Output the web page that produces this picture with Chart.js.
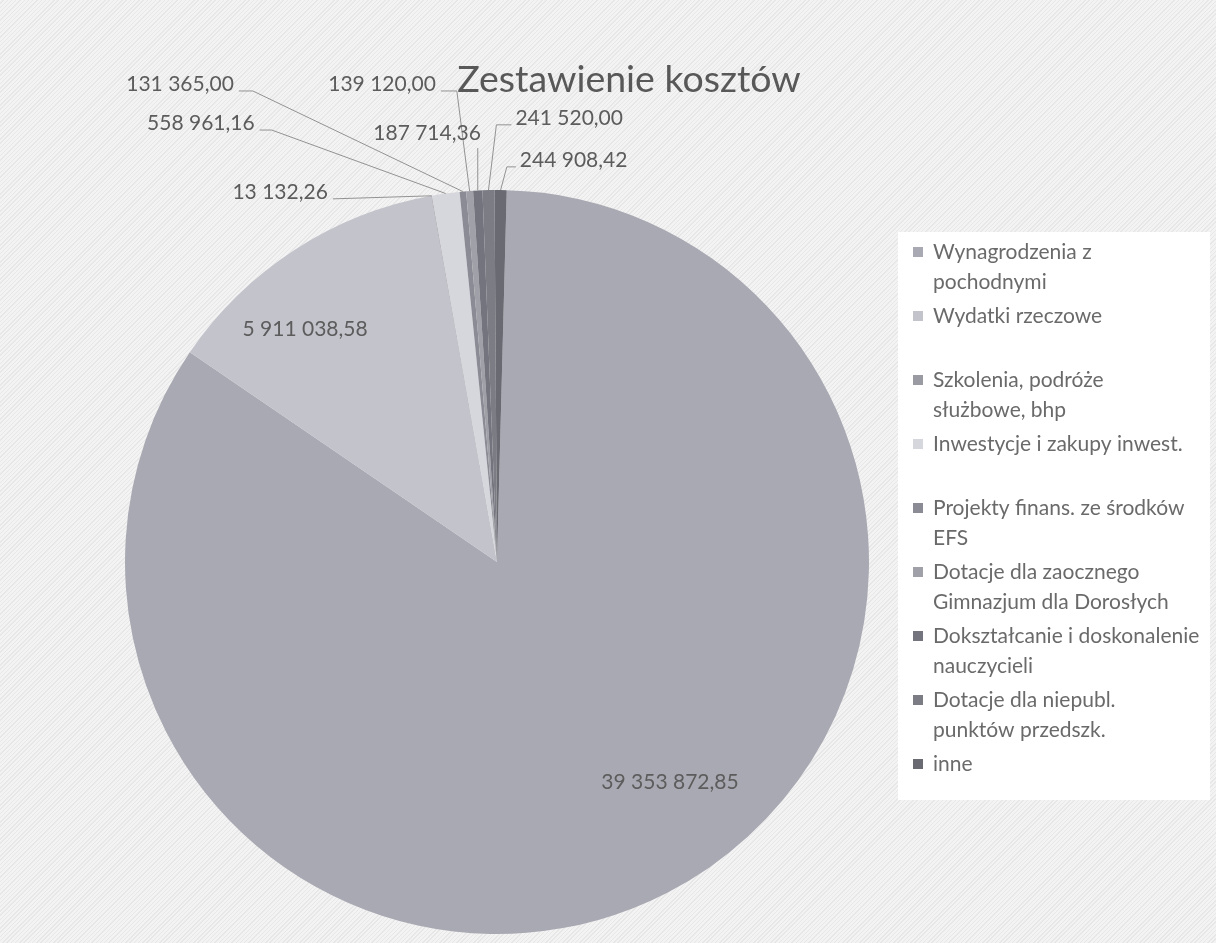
<!DOCTYPE html>
<html><head><meta charset="utf-8">
<script src="https://cdn.jsdelivr.net/npm/chart.js@4.4.1/dist/chart.umd.min.js"></script>
<style>
html,body{margin:0;padding:0;width:1216px;height:943px;overflow:hidden;
background:repeating-linear-gradient(135deg,#f3f3f3 0px,#f3f3f3 2px,#e7e7e7 2px,#e7e7e7 3px);}
#wrap{position:absolute;left:0;top:0;width:1216px;height:943px;}
canvas{display:block;}
</style></head><body>
<div id="wrap"><canvas id="c" width="1216" height="943"></canvas></div>
<script>
// ---- data ----
const chartTitle = 'Zestawienie kosztów';
const categories = [
  ['Wynagrodzenia z', 'pochodnymi'],
  ['Wydatki rzeczowe'],
  ['Szkolenia, podróże', 'służbowe, bhp'],
  ['Inwestycje i zakupy inwest.'],
  ['Projekty finans. ze środków', 'EFS'],
  ['Dotacje dla zaocznego', 'Gimnazjum dla Dorosłych'],
  ['Dokształcanie i doskonalenie', 'nauczycieli'],
  ['Dotacje dla niepubl.', 'punktów przedszk.'],
  ['inne']
];
const values = [39353872.85, 5911038.58, 13132.26, 558961.16, 131365.00, 139120.00, 187714.36, 241520.00, 244908.42];

// ---- style ----
const sliceColors = ['#a9a9b3', '#c3c3cc', '#9a9aa2', '#d6d6dd', '#8b8b95', '#a0a0a8', '#74747e', '#7c7c85', '#6a6a73'];
const FONT = 'Lato, "Open Sans", sans-serif';
// label placement relative to pie centre, in units of pie radius; side = where the leader line leaves the label
const labelLayout = [
  {u: 0.465, v: 0.591, side: 'none'},
  {u: -0.516, v: -0.626, side: 'none'},
  {u: -0.583, v: -0.995, side: 'right', elbow: 0},
  {u: -0.796, v: -1.180, side: 'right', elbow: 12},
  {u: -0.852, v: -1.285, side: 'right', elbow: 14},
  {u: -0.309, v: -1.285, side: 'right', elbow: 16},
  {u: -0.188, v: -1.153, side: 'bottom'},
  {u: 0.194, v: -1.194, side: 'left', elbow: 15},
  {u: 0.206, v: -1.081, side: 'left', elbow: 9}
];
const legendBox = {x: 898, y: 232, w: 312, h: 568};
const legendItem = {x: 913, y: 252, slot: 64, line: 30, box: 10, textX: 933};

const fmt = v => {
  const parts = v.toFixed(2).split('.');
  return parts[0].replace(/\B(?=(\d{3})+(?!\d))/g, ' ') + ',' + parts[1];
};

const decorPlugin = {
  id: 'decor',
  beforeDraw(chart) {
    const ctx = chart.ctx;
    ctx.save();
    ctx.fillStyle = '#ffffff';
    ctx.fillRect(legendBox.x, legendBox.y, legendBox.w, legendBox.h);
    ctx.restore();
  },
  afterDraw(chart) {
    const ctx = chart.ctx;
    const meta = chart.getDatasetMeta(0);
    ctx.save();
    // title
    ctx.fillStyle = '#585858';
    ctx.font = '37.5px ' + FONT;
    ctx.textAlign = 'center';
    ctx.textBaseline = 'middle';
    ctx.fillText(chartTitle, 629, 80);

    // data labels with leader lines
    ctx.font = '21px ' + FONT;
    meta.data.forEach((arc, i) => {
      const p = arc.getProps(['x', 'y', 'startAngle', 'endAngle', 'outerRadius'], true);
      const R = p.outerRadius;
      const mid = (p.startAngle + p.endAngle) / 2;
      const ax = p.x + R * Math.cos(mid), ay = p.y + R * Math.sin(mid);
      const L = labelLayout[i];
      const lx = p.x + L.u * R, ly = p.y + L.v * R;
      const txt = fmt(values[i]);
      const w = ctx.measureText(txt).width;
      ctx.fillStyle = '#5c5c5c';
      ctx.textAlign = 'center';
      ctx.textBaseline = 'middle';
      ctx.fillText(txt, lx, ly);
      if (L.side === 'none') return;
      ctx.strokeStyle = '#929292';
      ctx.lineWidth = 1;
      ctx.beginPath();
      if (L.side === 'right') {
        const sx = lx + w / 2 + 5, sy = ly + 7;
        ctx.moveTo(sx, sy);
        ctx.lineTo(sx + L.elbow, sy);
        ctx.lineTo(ax, ay);
      } else if (L.side === 'left') {
        const sx = lx - w / 2 - 4, sy = ly + 7;
        ctx.moveTo(sx, sy);
        ctx.lineTo(sx - L.elbow, sy);
        ctx.lineTo(ax, ay);
      } else {
        ctx.moveTo(ax, ly + 15);
        ctx.lineTo(ax, ay);
      }
      ctx.stroke();
    });

    // legend
    ctx.font = '21px ' + FONT;
    ctx.textAlign = 'left';
    ctx.textBaseline = 'middle';
    categories.forEach((lines, i) => {
      const y0 = legendItem.y + i * legendItem.slot;
      ctx.fillStyle = sliceColors[i];
      ctx.fillRect(legendItem.x, y0 - legendItem.box / 2, legendItem.box, legendItem.box);
      ctx.fillStyle = '#6a6a6a';
      lines.forEach((t, k) => ctx.fillText(t, legendItem.textX, y0 + k * legendItem.line));
    });
    ctx.restore();
  }
};

new Chart(document.getElementById('c'), {
  type: 'pie',
  data: {
    labels: categories,
    datasets: [{
      data: values,
      backgroundColor: sliceColors,
      borderWidth: 0
    }]
  },
  options: {
    responsive: false,
    maintainAspectRatio: false,
    animation: false,
    rotation: 1.5,
    layout: {padding: {left: 125, right: 347, top: 190, bottom: 9}},
    plugins: {legend: {display: false}, title: {display: false}, tooltip: {enabled: false}}
  },
  plugins: [decorPlugin]
});
</script>
</body></html>
